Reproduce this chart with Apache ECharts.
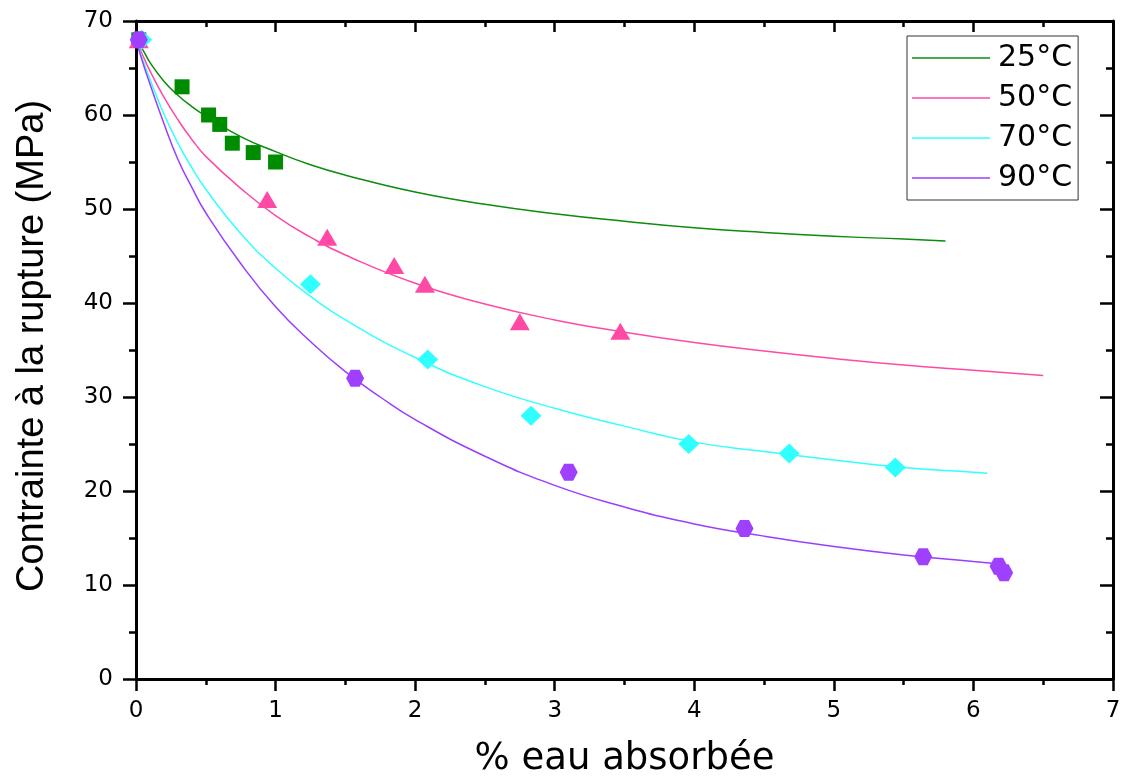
<!DOCTYPE html>
<html><head><meta charset="utf-8">
<script src="https://cdn.jsdelivr.net/npm/echarts@6/dist/echarts.min.js"></script>
<style>html,body{margin:0;padding:0;background:#fff}#c{width:1126px;height:783px}</style>
</head><body><div id="c"></div>
<script>
// Legend labels
const seriesNames = ['25°C', '50°C', '70°C', '90°C'];
// Axis ticks
const xTicks = {min: 0, max: 7, interval: 1};
const yTicks = {min: 0, max: 70, interval: 10};

// Measured points (x = % eau absorbée, y = contrainte MPa)
const pts25 = [[0.02,68],[0.33,63],[0.52,60],[0.60,59],[0.69,57],[0.84,56],[1.0,55]];
const pts50 = [[0.02,68],[0.94,51],[1.37,47],[1.85,44],[2.07,42],[2.75,38],[3.47,37]];
const pts70 = [[0.04,68],[1.25,42],[2.09,34],[2.83,28],[3.96,25],[4.68,24],[5.44,22.5]];
const pts90 = [[0.02,68],[1.57,32],[3.10,22],[4.36,16],[5.64,13],[6.18,12],[6.22,11.3]];

// Fitted curves
const fit25 = [[0,68],[0.05,66.9],[0.1,65.6],[0.2,63.6],[0.3,62.1],[0.4,60.9],[0.5,59.9],[0.75,57.7],[1.0,56.1],[1.25,54.7],[1.5,53.6],[2.0,51.8],[2.5,50.5],[3.0,49.5],[3.5,48.7],[4.0,48.0],[4.5,47.5],[5.0,47.1],[5.5,46.8],[5.8,46.6]];
const fit50 = [[0,68],[0.05,66.3],[0.1,64.7],[0.2,61.9],[0.3,59.5],[0.4,57.4],[0.5,55.6],[0.75,52.2],[1.0,49.3],[1.25,47.0],[1.5,45.1],[2.0,42.1],[2.5,39.9],[3.0,38.2],[3.5,36.9],[4.0,35.8],[4.5,34.9],[5.0,34.1],[5.5,33.4],[6.0,32.85],[6.5,32.3]];
const fit70 = [[0,68],[0.05,65.8],[0.1,63.8],[0.2,60.1],[0.3,57.0],[0.4,54.4],[0.5,52.1],[0.75,47.4],[1.0,43.7],[1.25,40.7],[1.5,38.2],[2.0,34.2],[2.5,31.1],[3.0,28.8],[3.5,26.9],[4.0,25.2],[4.5,24.2],[5.0,23.3],[5.5,22.5],[6.0,22.0],[6.1,21.9]];
const fit90 = [[0,68],[0.05,65.5],[0.1,63.3],[0.2,59.1],[0.3,55.3],[0.4,52.3],[0.5,49.6],[0.75,44.2],[1.0,39.6],[1.25,35.9],[1.5,32.7],[1.75,30.0],[2.0,27.6],[2.5,23.7],[3.0,20.6],[3.5,18.3],[4.0,16.5],[4.5,15.2],[5.0,14.1],[5.5,13.2],[6.0,12.5],[6.15,12.3]];

const lineColors = ['#0c8c0c', '#ff4aa5', '#33ffff', '#9b3dff'];
const markColors = ['#008c00', '#ff4aa5', '#30ffff', '#a040ff'];
const hexagon = 'path://M-10,0 L-5,-8.66 L5,-8.66 L10,0 L5,8.66 L-5,8.66 Z';

const fits = [fit25, fit50, fit70, fit90];
const pts = [pts25, pts50, pts70, pts90];
const symbols = ['rect', 'triangle', 'diamond', hexagon];
const sizes = [15, [20,17], [21,20], [18,17]];

const axisLineStyle = {color: '#000', width: 3};
const tickStyle = {color: '#000', width: 2.5};
const labelStyle = {color: '#000', fontFamily: 'DejaVu Sans', fontSize: 23};

const series = [];
fits.forEach((d, i) => series.push({
  name: seriesNames[i], type: 'line', data: d, showSymbol: false, symbol: 'none',
  smooth: 0.5,
  lineStyle: {color: lineColors[i], width: 1.5}, itemStyle: {color: lineColors[i]}, z: 2
}));
pts.forEach((d, i) => series.push({
  name: 'pts' + i, type: 'scatter', data: d, symbol: symbols[i], symbolSize: sizes[i],
  itemStyle: {color: markColors[i], opacity: 1}, z: 3 + i
}));

const chart = echarts.init(document.getElementById('c'), null, {renderer: 'canvas'});
chart.setOption({
  animation: false,
  backgroundColor: '#fff',
  grid: {left: 136, right: 13, top: 21, bottom: 104},
  legend: {
    data: seriesNames, orient: 'vertical', left: 907, top: 36,
    icon: 'rect', itemWidth: 78, itemHeight: 1.5, itemGap: 10,
    padding: [7, 6, 7, 5], borderColor: '#333', borderWidth: 1,
    textStyle: {fontFamily: 'DejaVu Sans', fontSize: 30, color: '#000', lineHeight: 29, padding: [0,0,0,3]}
  },
  xAxis: [{
    type: 'value', position: 'bottom', min: xTicks.min, max: xTicks.max, interval: xTicks.interval,
    name: '% eau absorbée', nameLocation: 'middle', nameGap: 62,
    nameTextStyle: {fontFamily: 'DejaVu Sans', fontSize: 37, color: '#000'},
    axisLine: {show: true, onZero: false, lineStyle: axisLineStyle},
    axisTick: {show: true, inside: false, length: 12, lineStyle: tickStyle},
    minorTick: {show: true, splitNumber: 2, length: 6, lineStyle: tickStyle},
    axisLabel: Object.assign({margin: 21}, labelStyle),
    splitLine: {show: false}
  }, {
    type: 'value', position: 'top', min: xTicks.min, max: xTicks.max, interval: xTicks.interval,
    axisLine: {show: true, onZero: false, lineStyle: axisLineStyle},
    axisTick: {show: true, inside: true, length: 11, lineStyle: tickStyle},
    minorTick: {show: true, splitNumber: 2, length: 6, lineStyle: tickStyle},
    axisLabel: {show: false}, splitLine: {show: false}
  }],
  yAxis: [{
    type: 'value', position: 'left', min: yTicks.min, max: yTicks.max, interval: yTicks.interval,
    name: 'Contrainte à la rupture (MPa)', nameLocation: 'middle', nameGap: 84,
    nameTextStyle: {fontFamily: 'Liberation Sans', fontSize: 38, color: '#000', padding: [0,0,0,8]},
    axisLine: {show: true, onZero: false, lineStyle: axisLineStyle},
    axisTick: {show: true, inside: false, length: 13, lineStyle: tickStyle},
    minorTick: {show: true, splitNumber: 2, length: 7, lineStyle: tickStyle},
    axisLabel: Object.assign({margin: 23}, labelStyle),
    splitLine: {show: false}
  }, {
    type: 'value', position: 'right', min: yTicks.min, max: yTicks.max, interval: yTicks.interval,
    axisLine: {show: true, onZero: false, lineStyle: axisLineStyle},
    axisTick: {show: true, inside: true, length: 13, lineStyle: tickStyle},
    minorTick: {show: true, splitNumber: 2, length: 7, lineStyle: tickStyle},
    axisLabel: {show: false}, splitLine: {show: false}
  }],
  series: series
});
</script>
</body></html>
